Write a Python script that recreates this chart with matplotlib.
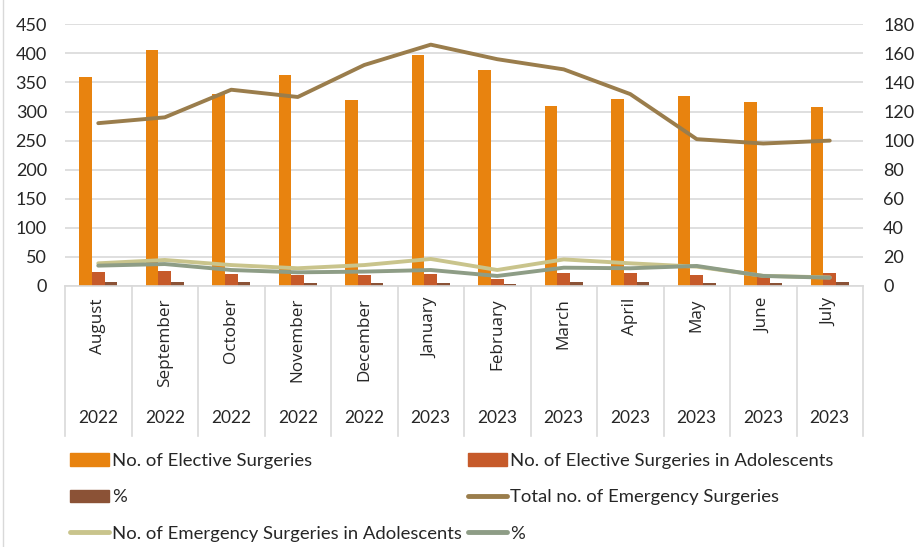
import numpy as np
import matplotlib
matplotlib.use("Agg")
import matplotlib.pyplot as plt
from matplotlib.lines import Line2D
from matplotlib.patches import Patch
from matplotlib.transforms import blended_transform_factory

plt.rcParams['font.family'] = ['Lato', 'DejaVu Sans']

months = ['August', 'September', 'October', 'November', 'December', 'January',
          'February', 'March', 'April', 'May', 'June', 'July']
years = ['2022'] * 5 + ['2023'] * 7

# elective surgeries (left axis)
elective = [360, 405, 331, 362, 320, 397, 371, 310, 322, 326, 317, 307]
elective_adol = [24, 26, 21, 19, 19, 21, 12, 22, 23, 19, 17, 22]
elective_pct = [6.7, 6.4, 6.3, 5.2, 5.9, 5.3, 3.2, 7.1, 7.1, 5.8, 5.4, 7.2]

# emergency surgeries (right axis)
emergency = [112, 116, 135, 130, 152, 166, 156, 149, 132, 101, 98, 100]
emergency_adol = [15.6, 17.9, 14.4, 12.2, 14.4, 18.6, 11.0, 18.3, 15.6, 13.3, 7.0, 5.9]
emergency_pct = [14.0, 15.1, 11.0, 9.4, 9.9, 11.0, 6.9, 12.6, 12.2, 13.8, 6.9, 5.7]

c_elec = '#E8830F'
c_elec_adol = '#C65A2A'
c_elec_pct = '#8B5236'
c_emer = '#9A7D4C'
c_emer_adol = '#C9C48C'
c_emer_pct = '#8E9D86'
grid_c = '#D9D9D9'
txt_c = '#262626'

W, H = 923, 547
fig = plt.figure(figsize=(W / 100, H / 100), dpi=100)
ax = fig.add_axes([65 / W, 1 - 286 / H, (863 - 65) / W, (286 - 24.3) / H])
ax2 = ax.twinx()

x = np.arange(len(months))
w = 0.19
ax.bar(x - w, elective, w, color=c_elec, zorder=2)
ax.bar(x, elective_adol, w, color=c_elec_adol, zorder=2)
ax.bar(x + w, elective_pct, w, color=c_elec_pct, zorder=2)

for vals, col in ((emergency, c_emer), (emergency_adol, c_emer_adol), (emergency_pct, c_emer_pct)):
    ax2.plot(x, vals, color=col, lw=2.8, solid_joinstyle='round', solid_capstyle='round')

ax.set_xlim(-0.5, len(months) - 0.5)
ax.set_ylim(0, 450)
ax2.set_ylim(0, 180)
ax.set_yticks(np.arange(0, 451, 50))
ax2.set_yticks(np.arange(0, 181, 20))
ax.yaxis.grid(True, color=grid_c, lw=1.2, zorder=0)
ax.set_axisbelow(True)
ax.set_xticks([])

for a in (ax, ax2):
    for s in ('left', 'right', 'top', 'bottom'):
        a.spines[s].set_visible(False)
ax.tick_params(axis='y', length=0, pad=13, labelsize=13, labelcolor=txt_c)
ax2.tick_params(axis='y', length=0, pad=14.5, labelsize=13, labelcolor=txt_c)

# category axis: baseline, separators, month and year labels
tr = blended_transform_factory(ax.transData, fig.transFigure)
y0 = 1 - 286 / H
y1 = 1 - 436 / H
fig.add_artist(Line2D([-0.5, len(months) - 0.5], [y0, y0], transform=tr, color=grid_c, lw=1.2))
for b in np.arange(-0.5, len(months), 1.0):
    fig.add_artist(Line2D([b, b], [y0, y1], transform=tr, color=grid_c, lw=1.2))
for i, (m, yr) in enumerate(zip(months, years)):
    ax.text(i, 1 - 298 / H, m, transform=tr, rotation=90, ha='center', va='top',
            fontsize=12.3, family='Open Sans', color=txt_c)
    ax.text(i, 1 - 418 / H, yr, transform=tr, ha='center', va='center',
            fontsize=12.5, color=txt_c)

# chart border on the left
fig.add_artist(Line2D([2.5 / W, 2.5 / W], [0, 1], color=grid_c, lw=1))

handles = [
    Patch(color=c_elec),
    Patch(color=c_elec_pct),
    Line2D([], [], color=c_emer_adol, lw=3.5, solid_capstyle='round'),
    Patch(color=c_elec_adol),
    Line2D([], [], color=c_emer, lw=3.5, solid_capstyle='round'),
    Line2D([], [], color=c_emer_pct, lw=3.5, solid_capstyle='round'),
]
labels = [
    'No. of Elective Surgeries',
    '%',
    'No. of Emergency Surgeries in Adolescents',
    'No. of Elective Surgeries in Adolescents',
    'Total no. of Emergency Surgeries',
    '%',
]
fig.legend(handles, labels, ncol=2, loc='upper left', bbox_to_anchor=(70 / W, 1 - 453 / H),
           frameon=False, fontsize=13.3, handlelength=2.1, handleheight=0.65,
           handletextpad=0.2, labelspacing=1.1, columnspacing=0.3,
           borderpad=0, borderaxespad=0, labelcolor=txt_c)

fig.savefig('out.png', dpi=100)
